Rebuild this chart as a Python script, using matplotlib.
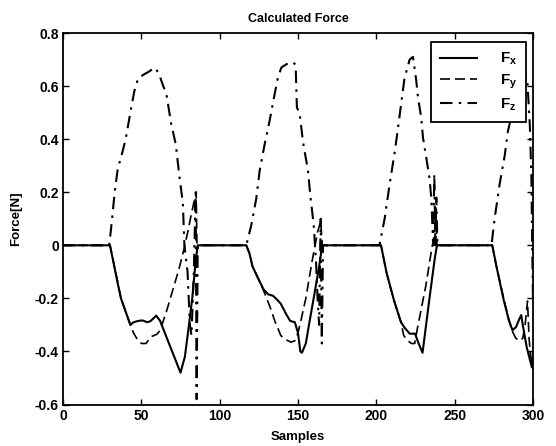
import matplotlib.pyplot as plt

plt.rcParams['font.family'] = ['Liberation Sans', 'DejaVu Sans']
plt.rcParams['mathtext.fontset'] = 'custom'
plt.rcParams['mathtext.rm'] = 'Liberation Sans:bold'
plt.rcParams['mathtext.it'] = 'Liberation Sans:bold'
plt.rcParams['mathtext.bf'] = 'Liberation Sans:bold'

# values (sample, force)
fx_s = [0, 30, 34.8, 37, 43, 45, 48, 50.6, 54, 56, 59.5, 62, 75, 77.8, 80.3, 82.5, 84.6, 86,
        117, 119, 121, 125, 128, 131, 134, 136.5, 139, 142.5, 145, 148, 150, 151.5, 152.5, 155, 157, 160, 163.5, 165.5,
        203, 206.6, 211.2, 215.7, 218, 221.3, 224.7, 227, 229.5, 233.8, 237.2, 238.7,
        274, 276.7, 281.3, 284.6, 286.9, 289.2, 291.4, 292.5, 293.7, 296, 299.3, 300]
fx_f = [0, 0, -0.14, -0.2, -0.30, -0.29, -0.285, -0.283, -0.29, -0.285, -0.265, -0.285, -0.48, -0.42, -0.305, -0.2, -0.064, 0,
        0, -0.03, -0.08, -0.13, -0.166, -0.185, -0.19, -0.204, -0.22, -0.26, -0.285, -0.29, -0.33, -0.40, -0.405, -0.37, -0.3, -0.2, -0.08, 0,
        0, -0.105, -0.206, -0.289, -0.31, -0.333, -0.333, -0.37, -0.405, -0.206, -0.054, 0,
        0, -0.08, -0.206, -0.282, -0.32, -0.308, -0.276, -0.263, -0.308, -0.384, -0.46, -0.40]

fy_s = [0, 30, 35, 37, 43, 45, 47, 50, 53, 56, 60, 62, 66, 70, 74, 77, 80, 82, 85, 85.5,
        117, 119, 121, 125, 128, 132, 135.5, 137, 139, 142, 145.5, 148, 150, 152, 155, 159, 162.5, 164.5, 165.5,
        203, 206.6, 211.2, 215.7, 217.5, 220, 222.5, 224.5, 226, 228, 231.5, 234.9, 237.2, 238, 238.7,
        274, 276.7, 281.3, 284.6, 286.5, 289, 291.5, 293.5, 295, 296.5, 297.5, 298.5, 300]
fy_f = [0, 0, -0.14, -0.2, -0.30, -0.33, -0.35, -0.37, -0.37, -0.345, -0.335, -0.32, -0.25, -0.17, -0.09, -0.02, 0.06, 0.12, 0.2, 0,
        0, -0.03, -0.08, -0.13, -0.17, -0.23, -0.29, -0.31, -0.34, -0.355, -0.365, -0.36, -0.33, -0.28, -0.2, -0.06, 0.05, 0.09, 0,
        0, -0.105, -0.206, -0.289, -0.34, -0.36, -0.37, -0.37, -0.32, -0.26, -0.156, -0.03, 0.047, 0.15, 0,
        0, -0.08, -0.2, -0.28, -0.32, -0.35, -0.36, -0.35, -0.3, -0.21, -0.35, -0.42, -0.45]

fz_s = [0, 29.5, 31, 33, 35, 37, 40, 43, 45.5, 48, 52, 55, 58.5, 61, 64, 66, 69, 72, 74.5, 76.5, 77.5, 79.5, 81, 82, 83.5, 84.7, 85.3, 86,
        117, 120.2, 123.4, 125.5, 128.7, 131.9, 135.1, 137.2, 139.4, 143.6, 146.8, 148.5, 149.3, 151.1, 153.2, 156.4, 158, 160, 161.5, 162.5, 163.5, 164.5, 165.2, 166,
        202, 205.3, 208.5, 211.7, 213.8, 216, 218, 221.3, 223.4, 225.5, 226.6, 228.7, 229.8, 231.9, 234, 235.1, 236.3, 237, 237.7, 238.3, 239,
        273.5, 275.5, 278.7, 282, 284, 286, 289, 292, 295, 296.5, 298, 299, 299.5, 300]
fz_f = [0, 0, 0.08, 0.2, 0.29, 0.33, 0.4, 0.5, 0.58, 0.63, 0.645, 0.655, 0.67, 0.65, 0.6, 0.57, 0.46, 0.38, 0.25, 0.16, 0.0, -0.1, -0.3, -0.34, -0.1, 0.2, -0.58, 0,
        0, 0.076, 0.177, 0.28, 0.38, 0.47, 0.57, 0.633, 0.67, 0.686, 0.69, 0.68, 0.52, 0.494, 0.39, 0.28, 0.18, 0.08, -0.06, -0.2, -0.3, 0.1, -0.37, 0,
        0, 0.10, 0.23, 0.35, 0.44, 0.54, 0.63, 0.70, 0.71, 0.62, 0.557, 0.48, 0.405, 0.33, 0.25, 0.177, 0.0, 0.27, 0.0, 0.18, 0,
        0, 0.1, 0.23, 0.34, 0.43, 0.48, 0.56, 0.62, 0.65, 0.61, 0.45, 0.25, 0.0, -0.2]

x_ticks = [0, 50, 100, 150, 200, 250, 300]
y_ticks = [-0.6, -0.4, -0.2, 0, 0.2, 0.4, 0.6, 0.8]
y_tick_labels = ['-0.6', '-0.4', '-0.2', '0', '0.2', '0.4', '0.6', '0.8']

fig = plt.figure(figsize=(5.56, 4.46), dpi=100)
ax = fig.add_axes([0.1133, 0.093, 0.8453, 0.833])

ax.plot(fx_s, fx_f, color='black', linewidth=1.5, linestyle='-', label=r'$F_x$')
ax.plot(fy_s, fy_f, color='black', linewidth=1.2, linestyle=(0, (6, 3)), label=r'$F_y$')
ax.plot(fz_s, fz_f, color='black', linewidth=1.5, linestyle=(0, (6, 3, 1.2, 3)), label=r'$F_z$')

ax.set_xlim(0, 300)
ax.set_ylim(-0.6, 0.8)
ax.set_xticks(x_ticks)
ax.set_xticklabels([str(t) for t in x_ticks], fontweight='bold', fontsize=10)
ax.set_yticks(y_ticks)
ax.set_yticklabels(y_tick_labels, fontweight='bold', fontsize=10)
ax.tick_params(direction='in', top=True, right=True, length=4, width=1, pad=3)
for sp in ax.spines.values():
    sp.set_linewidth(1.3)

ax.set_title('Calculated Force', fontsize=9, fontweight='bold', pad=8)
ax.set_xlabel('Samples', fontsize=9.5, fontweight='bold', labelpad=6)
ax.set_ylabel('Force[N]', fontsize=9.5, fontweight='bold', labelpad=9)

leg = ax.legend(loc='upper left', bbox_to_anchor=(0.783, 0.976), borderaxespad=0,
                fontsize=11, handlelength=2.4, handletextpad=1.5, labelspacing=0.35,
                borderpad=0.6, fancybox=False, framealpha=1, edgecolor='black')
leg.get_frame().set_linewidth(1.3)

fig.savefig('out.png', dpi=100)
